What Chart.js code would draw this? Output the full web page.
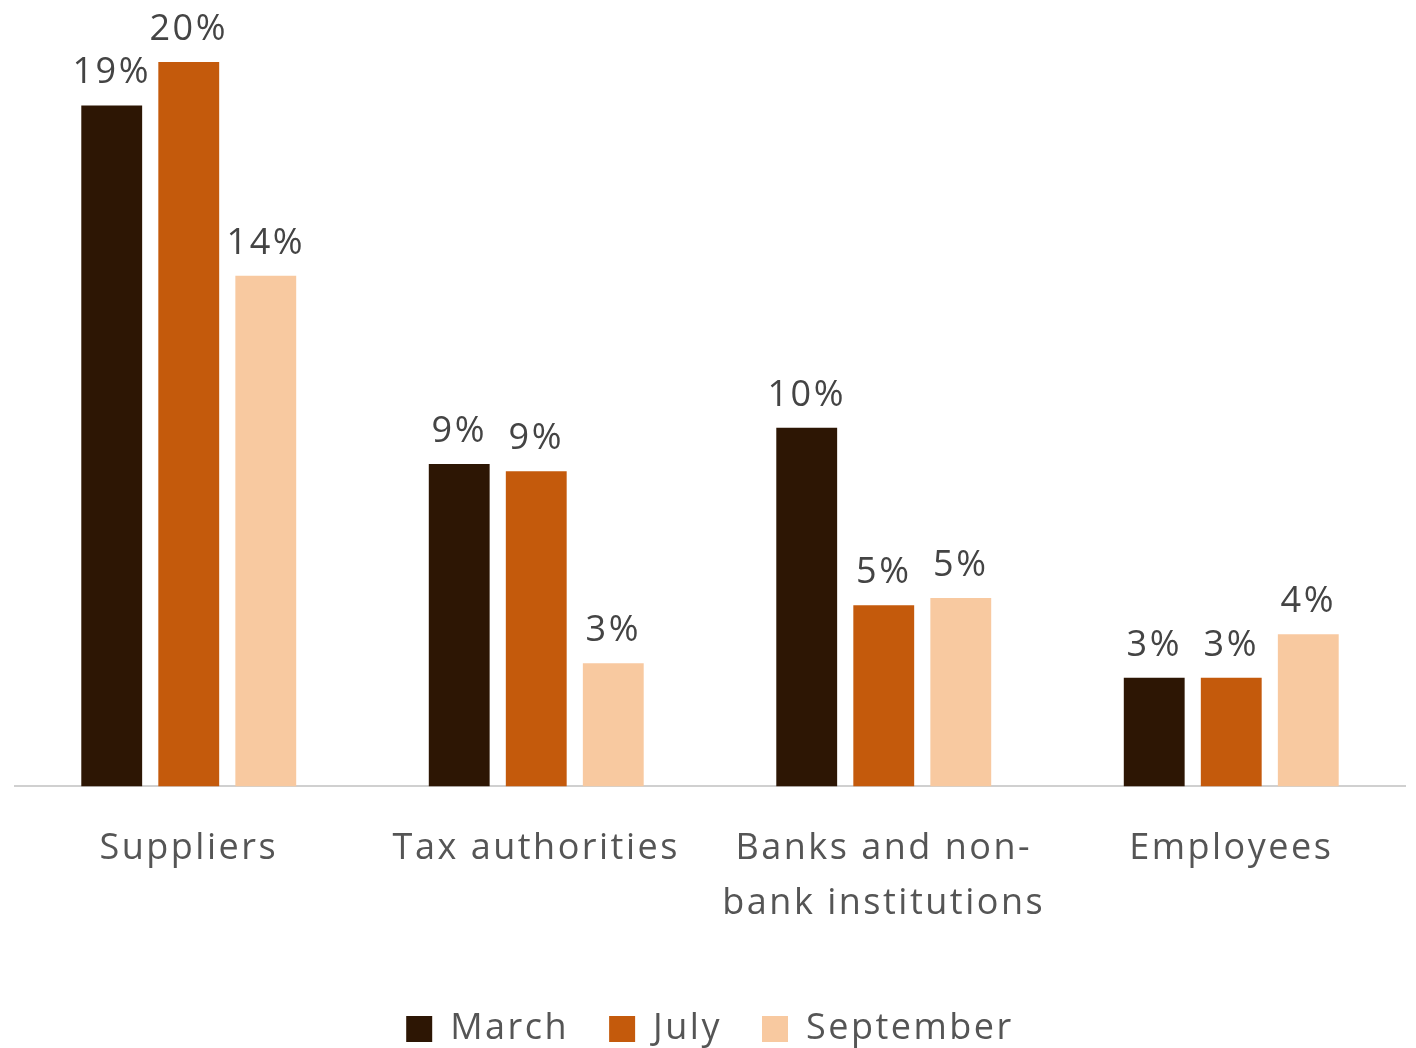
<!DOCTYPE html>
<html>
<head>
<meta charset="utf-8">
<script src="https://cdn.jsdelivr.net/npm/chart.js@4/dist/chart.umd.min.js"></script>
<style>
  html, body { margin: 0; padding: 0; background: #fff; }
  #wrap { width: 1416px; height: 1048px; }
</style>
</head>
<body>
<div id="wrap"><canvas id="chart" width="1416" height="1048"></canvas></div>
<script>
const categories = ["Suppliers", "Tax authorities", ["Banks and non-", "bank institutions"], "Employees"];
const seriesNames = ["March", "July", "September"];
const march = [18.8, 8.9, 9.9, 3.0];
const july = [20.0, 8.7, 5.0, 3.0];
const september = [14.1, 3.4, 5.2, 4.2];
const colors = ["#2d1604", "#c45a0c", "#f8c9a0"];

const FONT = "'Open Sans', sans-serif";
const SPACING = "2.5px";

// wide letter spacing like the original typeface
const spacing = {
  id: "spacing",
  beforeLayout(chart) { chart.ctx.letterSpacing = SPACING; },
  beforeDraw(chart) { chart.ctx.letterSpacing = SPACING; }
};

const barLabels = {
  id: "barLabels",
  afterDatasetsDraw(chart) {
    const ctx = chart.ctx;
    ctx.save();
    ctx.font = "36px " + FONT;
    ctx.fillStyle = "#444";
    ctx.textAlign = "center";
    ctx.textBaseline = "alphabetic";
    chart.data.datasets.forEach((ds, i) => {
      chart.getDatasetMeta(i).data.forEach((bar, j) => {
        ctx.fillText(Math.round(ds.data[j]) + "%", bar.x, bar.y - 22);
      });
    });
    ctx.restore();
  }
};

const ctx = document.getElementById("chart").getContext("2d");
new Chart(ctx, {
  type: "bar",
  data: {
    labels: categories,
    datasets: [
      { label: seriesNames[0], data: march, backgroundColor: colors[0] },
      { label: seriesNames[1], data: july, backgroundColor: colors[1] },
      { label: seriesNames[2], data: september, backgroundColor: colors[2] }
    ]
  },
  options: {
    responsive: false,
    animation: false,
    categoryPercentage: 0.665,
    barPercentage: 0.79,
    layout: { padding: { top: 62, left: 15, right: 11, bottom: -9 } },
    plugins: {
      legend: {
        position: "bottom",
        labels: {
          font: { size: 36, family: FONT },
          color: "#555",
          boxWidth: 26,
          boxHeight: 26,
          padding: 40
        }
      },
      tooltip: { enabled: false }
    },
    scales: {
      x: {
        grid: { display: false },
        border: { color: "#d0d0d0", width: 2 },
        ticks: {
          font: { size: 36, family: FONT, lineHeight: 1.55 },
          color: "#555",
          padding: 26,
          maxRotation: 0
        },
        afterFit(scale) { scale.height += 13; }
      },
      y: {
        display: false,
        min: 0,
        max: 20
      }
    }
  },
  plugins: [spacing, barLabels]
});
</script>
</body>
</html>
